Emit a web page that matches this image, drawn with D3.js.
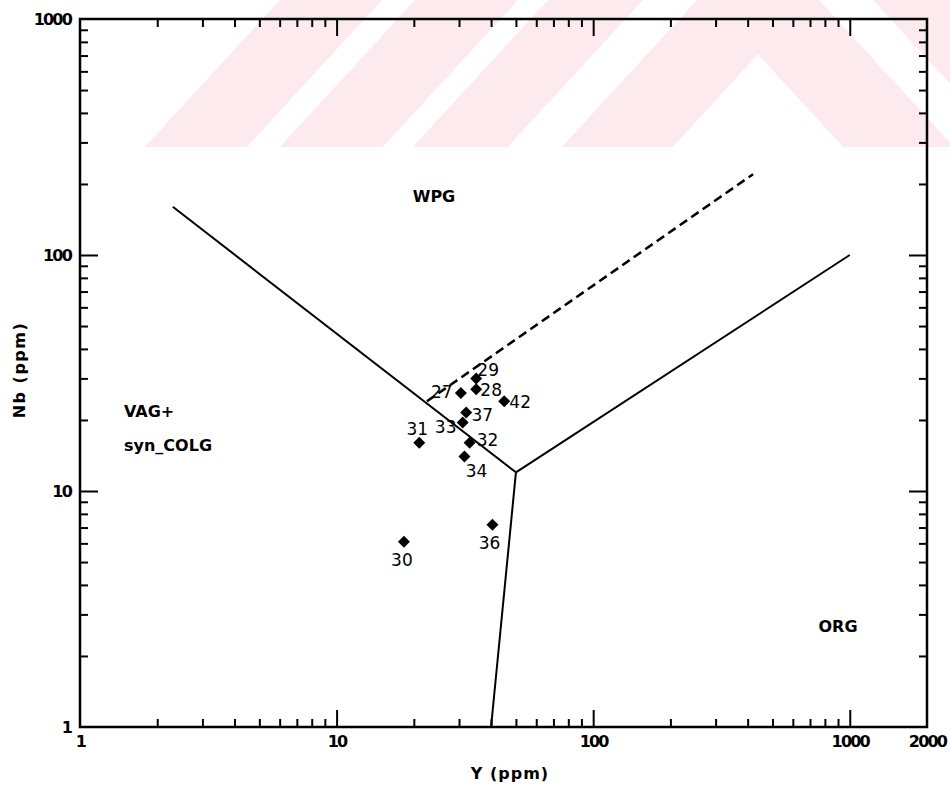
<!DOCTYPE html>
<html>
<head>
<meta charset="utf-8">
<script src="https://cdnjs.cloudflare.com/ajax/libs/d3/7.8.5/d3.min.js"></script>
<style>
  body { margin: 0; background: #fff; }
  svg text { font-family: "DejaVu Sans", sans-serif; fill: #000; }
  .tick line { stroke: #000; stroke-width: 2; }
  .domain { display: none; }
</style>
</head>
<body>
<svg width="950" height="787"></svg>
<script>
// sample numbers and their Y / Nb contents (ppm)
const sampleIds = ["27", "28", "29", "30", "31", "32", "33", "34", "36", "37", "42"];
const yPpm      = [30.5, 35,   35,   18.3, 21,   33,   31,   31.5, 40.5, 32,   45];
const nbPpm     = [26,   27,   30,   6.1,  16,   16,   19.5, 14,   7.2,  21.5, 24];

// field boundaries (Y, Nb)
const vagWpgLine = [[2.3, 160], [50, 12]];
const orgWpgLine = [[50, 12], [1000, 100]];
const vagOrgLine = [[50, 12], [40, 1]];
const dashedLine = [[22.5, 24], [420, 220]];

// ticks
const xMajor = [10, 100, 1000];
const xMinor = [2, 3, 4, 5, 6, 7, 8, 9, 20, 30, 40, 50, 60, 70, 80, 90, 200, 300, 400, 500, 600, 700, 800, 900];
const xLabels = [1, 10, 100, 1000, 2000];
const yMajor = [10, 100];
const yMinor = [2, 3, 4, 5, 6, 7, 8, 9, 20, 30, 40, 50, 60, 70, 80, 90, 200, 300, 400, 500, 600, 700, 800, 900];
const yLabels = [1, 10, 100, 1000];

// where each number sits relative to its diamond
const labelOffset = {
  "27": [-19, -1], "28": [15, 1], "29": [12, -9], "30": [-2, 18], "31": [-2, -14],
  "32": [18, -3], "33": [-17, 4], "34": [12, 14], "36": [-3, 18], "37": [16, 2], "42": [16, 1]
};

const svg = d3.select("svg");
const m = { left: 80, right: 927, top: 19, bottom: 727 };

// faint scanned watermark band at the top
const wm = svg.append("g");
wm.append("clipPath").attr("id", "wmclip")
  .append("rect").attr("x", 0).attr("y", 0).attr("width", 950).attr("height", 147);
const bands = [[280, 382], [415, 518], [548, 643], [697, 808]];
const c = 758, k = 0.92, H = 160;
wm.selectAll("path")
  .data(bands)
  .join("path")
    .attr("clip-path", "url(#wmclip)")
    .attr("fill", "#fdeaee")
    .attr("d", ([a, b]) => {
      const pts = [
        [a - k * H, H], [c, (a - c) / k], [2 * c - a + k * H, H],
        [2 * c - b + k * H, H], [c, (b - c) / k], [b - k * H, H]
      ];
      return "M" + pts.map(p => p.join(",")).join("L") + "Z";
    });

const x = d3.scaleLog().domain([1, 2000]).range([m.left, m.right]);
const y = d3.scaleLog().domain([1, 1000]).range([m.bottom, m.top]);

// inward ticks on all four sides
function ticks(axis, values, size, tr) {
  svg.append("g")
    .attr("transform", tr)
    .call(axis.tickValues(values).tickSize(size).tickFormat(""));
}
ticks(d3.axisBottom(x), xMinor, -8, `translate(0,${m.bottom})`);
ticks(d3.axisBottom(x), xMajor, -17, `translate(0,${m.bottom})`);
ticks(d3.axisTop(x), xMinor, -8, `translate(0,${m.top})`);
ticks(d3.axisTop(x), xMajor, -17, `translate(0,${m.top})`);
ticks(d3.axisLeft(y), yMinor, -8, `translate(${m.left},0)`);
ticks(d3.axisLeft(y), yMajor, -18, `translate(${m.left},0)`);
ticks(d3.axisRight(y), yMinor, -8, `translate(${m.right},0)`);
ticks(d3.axisRight(y), yMajor, -18, `translate(${m.right},0)`);

// tick labels
svg.append("g")
  .attr("transform", `translate(0,${m.bottom})`)
  .call(d3.axisBottom(x).tickValues(xLabels).tickSize(0).tickPadding(9).tickFormat(d3.format("d")))
  .selectAll("text")
    .attr("font-size", 16).attr("font-weight", "bold").attr("letter-spacing", -1.8);
svg.append("g")
  .attr("transform", `translate(${m.left},0)`)
  .call(d3.axisLeft(y).tickValues(yLabels).tickSize(0).tickPadding(9).tickFormat(d3.format("d")))
  .selectAll("text")
    .attr("font-size", 16).attr("font-weight", "bold").attr("letter-spacing", -1.8);

// frame
svg.append("rect")
  .attr("x", m.left).attr("y", m.top)
  .attr("width", m.right - m.left).attr("height", m.bottom - m.top)
  .attr("fill", "none").attr("stroke", "#000").attr("stroke-width", 2.5);

// boundaries
const line = d3.line().x(d => x(d[0])).y(d => y(d[1]));
svg.selectAll(".boundary")
  .data([vagWpgLine, orgWpgLine, vagOrgLine])
  .join("path")
    .attr("class", "boundary")
    .attr("fill", "none")
    .attr("stroke", "#000")
    .attr("stroke-width", 2)
    .attr("d", line);
svg.append("path")
  .attr("fill", "none")
  .attr("stroke", "#000")
  .attr("stroke-width", 2.5)
  .attr("stroke-dasharray", "9,5")
  .attr("d", line(dashedLine));

// samples
const data = sampleIds.map((id, i) => ({ id: id, y: yPpm[i], nb: nbPpm[i] }));
const diamond = d3.symbol().type(d3.symbolSquare).size(72);
svg.selectAll(".pt")
  .data(data)
  .join("path")
    .attr("class", "pt")
    .attr("d", diamond)
    .attr("transform", d => `translate(${x(d.y)},${y(d.nb)}) rotate(45)`)
    .attr("fill", "#000");
svg.selectAll(".num")
  .data(data)
  .join("text")
    .attr("class", "num")
    .attr("x", d => x(d.y) + labelOffset[d.id][0])
    .attr("y", d => y(d.nb) + labelOffset[d.id][1])
    .attr("text-anchor", "middle")
    .attr("dy", "0.36em")
    .attr("font-size", 17)
    .text(d => d.id);

// field names
const fields = [
  { t: "WPG", x: 434, y: 196, a: "middle" },
  { t: "VAG+", x: 124, y: 411, a: "start" },
  { t: "syn_COLG", x: 124, y: 445, a: "start" },
  { t: "ORG", x: 838, y: 626, a: "middle" }
];
svg.selectAll(".field")
  .data(fields)
  .join("text")
    .attr("class", "field")
    .attr("x", d => d.x).attr("y", d => d.y)
    .attr("dy", "0.36em")
    .attr("text-anchor", d => d.a)
    .attr("font-size", 16)
    .attr("font-weight", "bold")
    .text(d => d.t);

// axis titles
svg.append("text")
  .attr("x", 510).attr("y", 773)
  .attr("text-anchor", "middle").attr("dy", "0.36em")
  .attr("font-size", 16).attr("font-weight", "bold").attr("letter-spacing", 1)
  .text("Y (ppm)");
svg.append("text")
  .attr("transform", "translate(19,370) rotate(-90)")
  .attr("text-anchor", "middle").attr("dy", "0.36em")
  .attr("font-size", 16).attr("font-weight", "bold").attr("letter-spacing", 1.5)
  .text("Nb (ppm)");
</script>
</body>
</html>
